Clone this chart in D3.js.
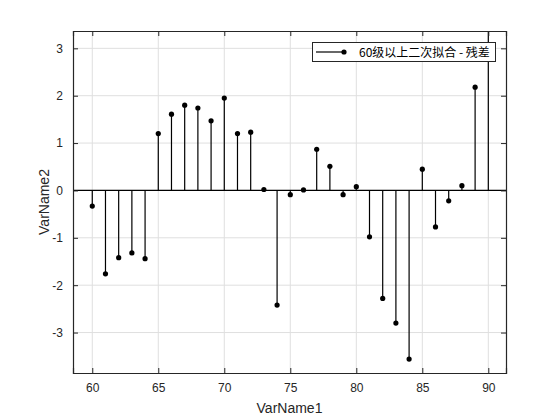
<!DOCTYPE html>
<html><head><meta charset="utf-8">
<script src="https://cdn.jsdelivr.net/npm/d3@7"></script>
<style>body{margin:0;background:#fff}</style>
</head><body>
<script>
const xValues = [60,61,62,63,64,65,66,67,68,69,70,71,72,73,74,75,76,77,78,79,80,81,82,83,84,85,86,87,88,89,90];
const residuals = [-0.33,-1.76,-1.42,-1.32,-1.44,1.20,1.61,1.80,1.74,1.47,1.95,1.20,1.23,0.02,-2.42,-0.09,0.01,0.87,0.51,-0.09,0.08,-0.98,-2.28,-2.80,-3.56,0.45,-0.77,-0.22,0.10,2.18,3.60];
const xTicks = [60,65,70,75,80,85,90];
const yTicks = [-3,-2,-1,0,1,2,3];
const legendLabel = "60级以上二次拟合 - 残差";
const xLabel = "VarName1", yLabel = "VarName2";

const W = 560, H = 420;
const m = {left:73, right:54, top:31, bottom:47};
const svg = d3.select("body").append("svg").attr("width",W).attr("height",H)
  .style("font-family","Helvetica, Arial, 'Liberation Sans', sans-serif");
svg.append("rect").attr("width",W).attr("height",H).attr("fill","#fff");

const x = d3.scaleLinear().domain([58.54,91.34]).range([m.left, W-m.right]);
const y = d3.scaleLinear().domain([-3.854,3.366]).range([H-m.bottom, m.top]);
const x0 = m.left, x1 = W-m.right, y0 = H-m.bottom, y1 = m.top;

// grid
const g = svg.append("g");
g.selectAll(".gx").data(xTicks).enter().append("line")
  .attr("x1",d=>x(d)).attr("x2",d=>x(d)).attr("y1",y1).attr("y2",y0)
  .attr("stroke","#dfdfdf").attr("stroke-width",1);
g.selectAll(".gy").data(yTicks).enter().append("line")
  .attr("y1",d=>y(d)).attr("y2",d=>y(d)).attr("x1",x0).attr("x2",x1)
  .attr("stroke","#dfdfdf").attr("stroke-width",1);

// clip
svg.append("clipPath").attr("id","clip").append("rect")
  .attr("x",x0).attr("y",y1).attr("width",x1-x0).attr("height",y0-y1);
const plot = svg.append("g").attr("clip-path","url(#clip)");

// baseline
plot.append("line").attr("x1",x0).attr("x2",x1).attr("y1",y(0)).attr("y2",y(0))
  .attr("stroke","#000").attr("stroke-width",1.2);

const data = xValues.map((v,i)=>({x:v,y:residuals[i]}));
plot.selectAll(".stem").data(data).enter().append("line")
  .attr("x1",d=>x(d.x)).attr("x2",d=>x(d.x)).attr("y1",y(0)).attr("y2",d=>y(d.y))
  .attr("stroke","#000").attr("stroke-width",1.2);
plot.selectAll(".pt").data(data).enter().append("circle")
  .attr("cx",d=>x(d.x)).attr("cy",d=>y(d.y)).attr("r",2.6).attr("fill","#000");

// axes
const axCol = "#262626";
const xb = svg.append("g").attr("transform",`translate(0,${y0})`)
  .call(d3.axisBottom(x).tickValues(xTicks).tickSize(-5).tickPadding(10).tickFormat(d3.format("d")));
const xt = svg.append("g").attr("transform",`translate(0,${y1})`)
  .call(d3.axisTop(x).tickValues(xTicks).tickSize(-5).tickFormat(""));
const yl = svg.append("g").attr("transform",`translate(${x0},0)`)
  .call(d3.axisLeft(y).tickValues(yTicks).tickSize(-5).tickPadding(10).tickFormat(d3.format("d")));
const yr = svg.append("g").attr("transform",`translate(${x1},0)`)
  .call(d3.axisRight(y).tickValues(yTicks).tickSize(-5).tickFormat(""));
[xb,xt,yl,yr].forEach(a=>{
  a.select(".domain").attr("stroke",axCol).attr("stroke-width",1.2);
  a.selectAll(".tick line").attr("stroke",axCol);
  a.selectAll(".tick text").attr("fill",axCol).style("font-size","12px")
   .style("font-family","Helvetica, Arial, 'Liberation Sans', sans-serif");
});
yl.selectAll(".tick text").text(d=>d<0?"-"+Math.abs(d):d);

// labels
svg.append("text").attr("x",(x0+x1)/2).attr("y",413).attr("text-anchor","middle")
  .attr("fill",axCol).style("font-size","14px").text(xLabel);
svg.append("text").attr("transform",`translate(49,${(y0+y1)/2}) rotate(-90)`)
  .attr("text-anchor","middle").attr("fill",axCol).style("font-size","14px").text(yLabel);

// legend
const lg = svg.append("g");
lg.append("rect").attr("x",312.5).attr("y",42.5).attr("width",183).attr("height",19)
  .attr("fill","#fff").attr("stroke","#262626").attr("stroke-width",1);
lg.append("line").attr("x1",316).attr("x2",344).attr("y1",52).attr("y2",52)
  .attr("stroke","#000").attr("stroke-width",1.2);
lg.append("circle").attr("cx",344).attr("cy",52).attr("r",2.6).attr("fill","#000");
lg.append("text").attr("x",359).attr("y",56.5).attr("fill","#000")
  .style("font-size","12px").style("font-family","'Noto Sans CJK SC', sans-serif").text(legendLabel);
</script>
</body></html>
